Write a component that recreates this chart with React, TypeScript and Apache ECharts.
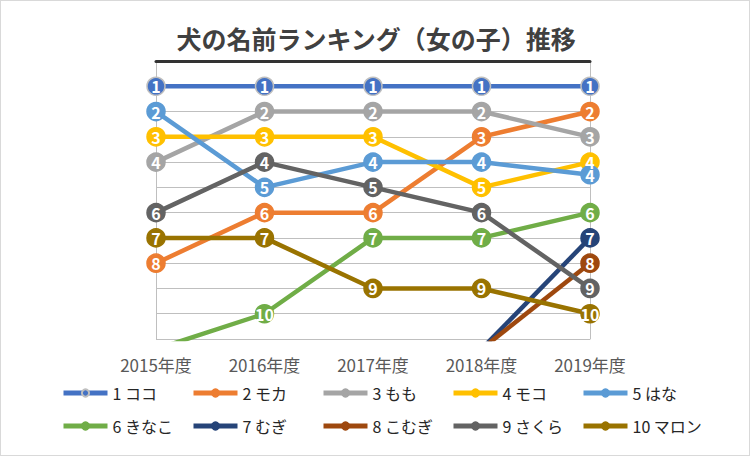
import * as echarts from 'echarts';
import { useEffect, useRef } from 'react';

const years = ['2015年度', '2016年度', '2017年度', '2018年度', '2019年度'];

const names = [
  '1 ココ',
  '2 モカ',
  '3 もも',
  '4 モコ',
  '5 はな',
  '6 きなこ',
  '7 むぎ',
  '8 こむぎ',
  '9 さくら',
  '10 マロン',
];

const colors = [
  '#4472C4',
  '#ED7D31',
  '#A5A5A5',
  '#FFC000',
  '#5B9BD5',
  '#70AD47',
  '#264478',
  '#9E480E',
  '#636363',
  '#997300',
];

// 順位（11 を超える値は圏外）
const coco = [1, 1, 1, 1, 1];
const moka = [8, 6, 6, 3, 2];
const momo = [4, 2, 2, 2, 3];
const moko = [3, 3, 3, 5, 4];
const hana = [2, 5, 4, 4, 4.5];
const kinako = [11.4, 10, 7, 7, 6];
const mugi = [null, null, null, 11.4, 7];
const komugi = [null, null, null, 11.4, 8];
const sakura = [6, 4, 5, 6, 9];
const maron = [7, 7, 9, 9, 10];

const ranks = [coco, moka, momo, moko, hana, kinako, mugi, komugi, sakura, maron];

const font = '"Noto Sans CJK JP", sans-serif';

export default function App() {
  const container = useRef<HTMLDivElement | null>(null);

  useEffect(() => {
    document.body.style.margin = '0';
    if (!container.current) return;
    const chart = echarts.init(container.current, undefined, { renderer: 'svg' });
    chart.setOption({
      animation: false,
      backgroundColor: '#fff',
      textStyle: { fontFamily: font },
      graphic: [
        {
          type: 'text',
          x: 375,
          y: 37,
          style: {
            text: '犬の名前ランキング（女の子）推移',
            fill: '#404040',
            font: `bold 25px ${font}`,
            textAlign: 'center',
            textVerticalAlign: 'middle',
          },
        },
      ],
      grid: { left: 155, right: 159, top: 60, bottom: 116 },
      xAxis: [
        {
          type: 'category',
          data: years,
          boundaryGap: false,
          axisLine: { lineStyle: { color: '#A6A6A6', width: 1 } },
          axisTick: { show: false },
          axisLabel: { color: '#595959', fontSize: 17, margin: 17 },
        },
        {
          type: 'category',
          data: years,
          position: 'top',
          boundaryGap: false,
          axisLine: { lineStyle: { color: '#333333', width: 3 } },
          axisTick: { show: false },
          axisLabel: { show: false },
        },
      ],
      yAxis: [
        {
          type: 'value',
          inverse: true,
          min: 0,
          max: 11,
          interval: 1,
          axisLine: { show: true, lineStyle: { color: '#BFBFBF' } },
          axisTick: { show: false },
          axisLabel: { show: false },
          splitLine: { lineStyle: { color: '#BFBFBF', width: 1 } },
        },
        {
          type: 'value',
          inverse: true,
          min: 0,
          max: 11,
          interval: 1,
          position: 'right',
          axisLine: { show: true, lineStyle: { color: '#BFBFBF' } },
          axisTick: { show: false },
          axisLabel: { show: false },
          splitLine: { show: false },
        },
      ],
      legend: [0, 1, 2, 3, 4].map((i) => ({
        data: [names[i], names[i + 5]],
        orient: 'vertical',
        left: 55 + 130 * i,
        top: 379,
        itemGap: 17,
        itemWidth: 44,
        itemHeight: 9,
        lineStyle: { width: 5 },
        textStyle: { fontSize: 16, color: '#262626', fontFamily: font },
      })),
      series: ranks.map((data, i) => ({
        type: 'line',
        name: names[i],
        data,
        clip: true,
        symbol: 'circle',
        symbolSize: 18,
        lineStyle: { color: colors[i], width: 4.5 },
        itemStyle: {
          color: colors[i],
          borderColor: i === 0 ? '#BFBFBF' : colors[i],
          borderWidth: 1.5,
        },
        label: {
          show: true,
          position: 'inside',
          color: '#fff',
          fontSize: 16,
          fontWeight: 'bold',
          fontFamily: font,
          formatter: (p: { value: number }) => String(Math.floor(p.value)),
        },
      })),
    } as echarts.EChartsOption);
    return () => chart.dispose();
  }, []);

  return (
    <div
      ref={container}
      style={{
        width: 750,
        height: 456,
        boxSizing: 'border-box',
        border: '1px solid #D9D9D9',
      }}
    />
  );
}
